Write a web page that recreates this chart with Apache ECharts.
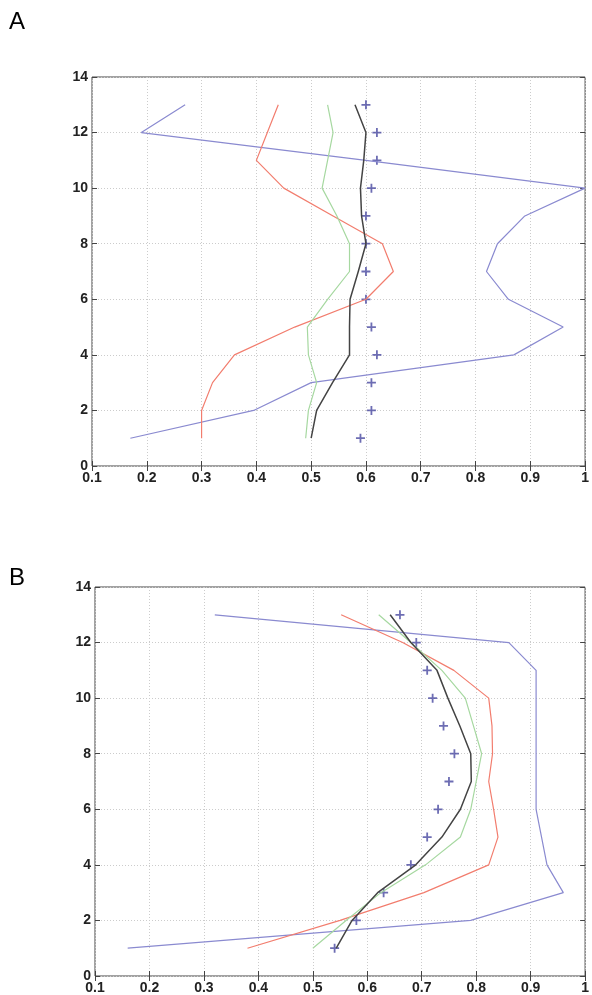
<!DOCTYPE html>
<html>
<head>
<meta charset="utf-8">
<script src="https://cdn.jsdelivr.net/npm/echarts@6/dist/echarts.min.js"></script>
<style>
  html, body { margin: 0; padding: 0; background: #fff; }
  #chart { width: 592px; height: 995px; }
</style>
</head>
<body>
<div id="chart"></div>
<script>
// levels on the y axis
const levels = [1, 2, 3, 4, 5, 6, 7, 8, 9, 10, 11, 12, 13];
const xTicks = [0.1, 0.2, 0.3, 0.4, 0.5, 0.6, 0.7, 0.8, 0.9, 1];
const yTicks = [0, 2, 4, 6, 8, 10, 12, 14];

// panel A
const blueA  = [0.17, 0.395, 0.5, 0.87, 0.96, 0.86, 0.82, 0.84, 0.89, 1.0, 0.6, 0.19, 0.27];
const redA   = [0.3, 0.3, 0.32, 0.36, 0.47, 0.6, 0.65, 0.63, 0.54, 0.45, 0.4, 0.42, 0.44];
const greenA = [0.49, 0.495, 0.51, 0.495, 0.493, 0.53, 0.57, 0.57, 0.547, 0.52, 0.53, 0.54, 0.53];
const blackA = [0.5, 0.51, 0.539, 0.57, 0.57, 0.571, 0.586, 0.6, 0.592, 0.59, 0.596, 0.6, 0.58];
const markA  = [0.59, 0.61, 0.61, 0.62, 0.61, 0.6, 0.6, 0.6, 0.6, 0.61, 0.62, 0.62, 0.6];

// panel B
const blueB  = [0.16, 0.79, 0.96, 0.93, 0.92, 0.91, 0.91, 0.91, 0.91, 0.91, 0.91, 0.86, 0.32];
const redB   = [0.38, 0.55, 0.704, 0.823, 0.84, 0.832, 0.823, 0.83, 0.829, 0.823, 0.759, 0.665, 0.552];
const greenB = [0.5, 0.561, 0.625, 0.707, 0.771, 0.79, 0.8, 0.81, 0.795, 0.78, 0.737, 0.68, 0.621];
const blackB = [0.543, 0.572, 0.619, 0.689, 0.737, 0.771, 0.791, 0.79, 0.77, 0.748, 0.728, 0.68, 0.642];
const markB  = [0.54, 0.58, 0.63, 0.68, 0.71, 0.73, 0.75, 0.76, 0.74, 0.72, 0.71, 0.69, 0.66];

const COLORS = { blue: "#8a8ad0", red: "#f27d6e", green: "#a6d8a0", black: "#444", mark: "#4848a0" };
const FONT = "Liberation Sans, Arial, sans-serif";
const PLUS = "path://M4,0 L6,0 L6,4 L10,4 L10,6 L6,6 L6,10 L4,10 L4,6 L0,6 L0,4 L4,4 Z";

const chart = echarts.init(document.getElementById("chart"), null, { renderer: "canvas" });

const pairs = xs => xs.map((x, i) => [x, levels[i]]);
const labelStyle = { color: "#222", fontSize: 14, fontWeight: "bold", fontFamily: FONT };
const gridLine = { show: true, lineStyle: { color: "#cccccc", type: [1, 2], width: 1 } };
const tick = { show: true, inside: true, length: 5, lineStyle: { color: "#444" } };

function axesFor(idx) {
  const xMain = {
    type: "value", gridIndex: idx, min: xTicks[0], max: xTicks[xTicks.length - 1], interval: 0.1,
    axisLine: { show: false }, axisTick: tick,
    axisLabel: { ...labelStyle, margin: 5, formatter: v => String(+v.toFixed(1)) },
    splitLine: gridLine
  };
  const xTop = {
    type: "value", gridIndex: idx, position: "top", min: xTicks[0], max: xTicks[xTicks.length - 1], interval: 0.1,
    axisLine: { show: false }, axisTick: tick, axisLabel: { show: false }, splitLine: { show: false }
  };
  const yMain = {
    type: "value", gridIndex: idx, min: yTicks[0], max: yTicks[yTicks.length - 1], interval: 2,
    axisLine: { show: false }, axisTick: tick,
    axisLabel: { ...labelStyle, margin: 4 },
    splitLine: gridLine
  };
  const yRight = {
    type: "value", gridIndex: idx, position: "right", min: yTicks[0], max: yTicks[yTicks.length - 1], interval: 2,
    axisLine: { show: false }, axisTick: tick, axisLabel: { show: false }, splitLine: { show: false }
  };
  return { x: [xMain, xTop], y: [yMain, yRight] };
}

const axA = axesFor(0), axB = axesFor(1);

function panelSeries(ax, blue, red, green, black, mark) {
  const line = (name, data, color, width) => ({
    name, type: "line", xAxisIndex: ax, yAxisIndex: ax, data: pairs(data),
    showSymbol: false, symbol: "none", lineStyle: { color, width }, silent: true, animation: false
  });
  return [
    line("blue", blue, COLORS.blue, 1.2),
    line("red", red, COLORS.red, 1.2),
    line("green", green, COLORS.green, 1.2),
    line("black", black, COLORS.black, 1.5),
    {
      name: "mark", type: "scatter", xAxisIndex: ax, yAxisIndex: ax, data: pairs(mark),
      symbol: PLUS, symbolSize: 9, itemStyle: { color: COLORS.mark }, silent: true, animation: false
    }
  ];
}

chart.setOption({
  backgroundColor: "#fff",
  animation: false,
  grid: [
    { left: 92, top: 77, width: 495, height: 389, show: true, borderColor: "#444", borderWidth: 1, backgroundColor: "transparent" },
    { left: 95, top: 587, width: 494, height: 389, show: true, borderColor: "#444", borderWidth: 1, backgroundColor: "transparent" }
  ],
  xAxis: [axA.x[0], axB.x[0], axA.x[1], axB.x[1]],
  yAxis: [axA.y[0], axB.y[0], axA.y[1], axB.y[1]],
  series: [
    ...panelSeries(0, blueA, redA, greenA, blackA, markA),
    ...panelSeries(1, blueB, redB, greenB, blackB, markB)
  ],
  graphic: [
    { type: "text", left: 9, top: 10, style: { text: "A", fontSize: 24, fontFamily: FONT, fill: "#000" } },
    { type: "text", left: 9, top: 566, style: { text: "B", fontSize: 24, fontFamily: FONT, fill: "#000" } }
  ]
});
</script>
</body>
</html>
